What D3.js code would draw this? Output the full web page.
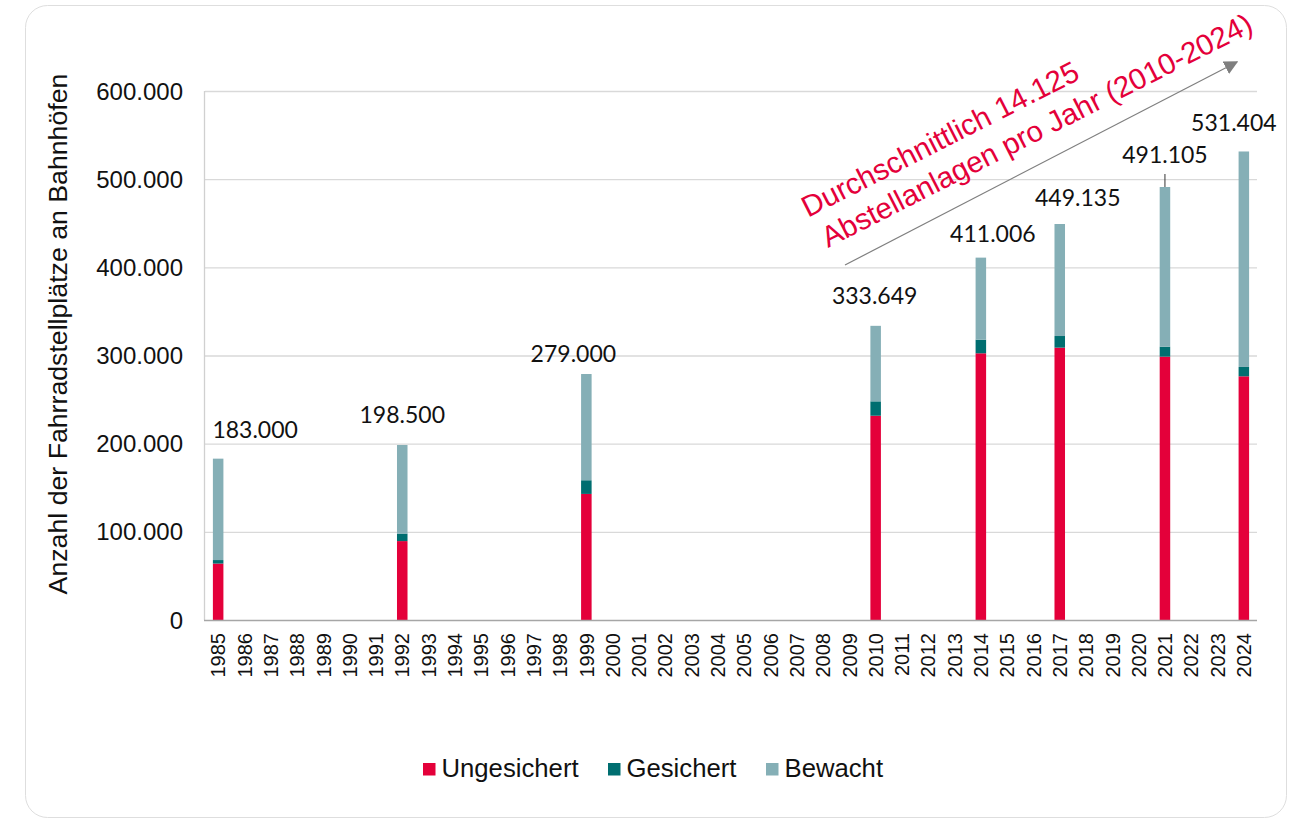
<!DOCTYPE html>
<html lang="de">
<head>
<meta charset="UTF-8">
<title>Fahrradstellplätze an Bahnhöfen</title>
<script src="https://d3js.org/d3.v7.min.js"></script>
<style>
  body { margin: 0; padding: 0; background: #ffffff; }
  svg { display: block; }
</style>
</head>
<body>
<svg id="chart" width="1294" height="821"></svg>

<script>
// x categories (all years on the axis)
const years = ["1985","1986","1987","1988","1989","1990","1991","1992","1993","1994",
               "1995","1996","1997","1998","1999","2000","2001","2002","2003","2004",
               "2005","2006","2007","2008","2009","2010","2011","2012","2013","2014",
               "2015","2016","2017","2018","2019","2020","2021","2022","2023","2024"];

// years that actually have data
const dataYears   = ["1985","1992","1999","2010","2014","2017","2021","2024"];
const ungesichert = [64000, 89500, 143000, 231700, 302500, 308900, 298700, 276400];
const gesichert   = [4000, 8500, 15500, 16300, 15400, 13200, 11300, 10600];
const bewacht     = [115000, 100500, 120500, 85649, 93106, 127035, 181105, 244404];
const totals      = [183000, 198500, 279000, 333649, 411006, 449135, 491105, 531404];

const seriesNames  = ["Ungesichert", "Gesichert", "Bewacht"];
const seriesColors = ["#e4003a", "#006e70", "#85afb6"];
const yTicks = [0, 100000, 200000, 300000, 400000, 500000, 600000];

// small nudges for the total labels (layout only)
const labelNudge = [[37, -1], [0, -2], [-13, 8], [-1, -2], [12, 4], [18, 2], [0, -4], [-10, 0]];

const svg = d3.select("#chart");

// card
svg.append("rect")
  .attr("x", 25.5).attr("y", 5.5)
  .attr("width", 1261).attr("height", 812)
  .attr("rx", 22)
  .attr("fill", "#ffffff")
  .attr("stroke", "#dedede");

const plotLeft = 205, plotRight = 1257, plotTop = 91, plotBottom = 620;

const x = d3.scaleBand().domain(years).range([plotLeft, plotRight])
  .paddingInner(0.6).paddingOuter(0.3);
const y = d3.scaleLinear().domain([0, 600000]).range([plotBottom, plotTop]);

const de = d3.formatLocale({ decimal: ",", thousands: ".", grouping: [3], currency: ["", " €"] });
const fmt = de.format(",.0f");

// gridlines
svg.append("g").selectAll("line")
  .data(yTicks.filter(d => d > 0))
  .enter().append("line")
  .attr("x1", plotLeft).attr("x2", plotRight)
  .attr("y1", d => y(d) + 0.5).attr("y2", d => y(d) + 0.5)
  .attr("stroke", "#d9d9d9").attr("stroke-width", 1.3);

// y axis line
svg.append("line")
  .attr("x1", plotLeft - 0.5).attr("x2", plotLeft - 0.5)
  .attr("y1", plotTop).attr("y2", plotBottom)
  .attr("stroke", "#d0d0d0").attr("stroke-width", 1.3);

// y tick labels
svg.append("g").selectAll("text")
  .data(yTicks)
  .enter().append("text")
  .attr("x", 183)
  .attr("y", d => y(d))
  .attr("dy", "0.36em")
  .attr("text-anchor", "end")
  .style("font-family", "'Liberation Sans', Arial, sans-serif")
  .style("font-size", "24px")
  .attr("fill", "#111")
  .text(d => fmt(d));

// y title
svg.append("text")
  .attr("transform", "translate(58," + 334 + ")rotate(-90)")
  .attr("dy", "0.35em")
  .attr("text-anchor", "middle")
  .style("font-family", "'Liberation Sans', Arial, sans-serif")
  .style("font-size", "26.7px")
  .attr("fill", "#111")
  .text("Anzahl der Fahrradstellplätze an Bahnhöfen");

// stacked bars
const rows = dataYears.map((yr, i) => ({
  year: yr,
  Ungesichert: ungesichert[i],
  Gesichert: gesichert[i],
  Bewacht: bewacht[i]
}));
const stack = d3.stack().keys(seriesNames)(rows);

svg.append("g").selectAll("g")
  .data(stack)
  .enter().append("g")
  .attr("fill", (d, i) => seriesColors[i])
  .selectAll("rect")
  .data(d => d)
  .enter().append("rect")
  .attr("x", d => x(d.data.year))
  .attr("y", d => y(d[1]))
  .attr("width", x.bandwidth())
  .attr("height", d => y(d[0]) - y(d[1]));

// x axis line
svg.append("line")
  .attr("x1", plotLeft - 1).attr("x2", plotRight)
  .attr("y1", plotBottom + 0.5).attr("y2", plotBottom + 0.5)
  .attr("stroke", "#a6a6a6").attr("stroke-width", 1.5);

// x labels (rotated)
svg.append("g").selectAll("text")
  .data(years)
  .enter().append("text")
  .attr("transform", d => "translate(" + (x(d) + x.bandwidth() / 2) + ",633)rotate(-90)")
  .attr("dy", "0.36em")
  .attr("text-anchor", "end")
  .style("font-family", "'Liberation Sans', Arial, sans-serif")
  .style("font-size", "20px")
  .attr("fill", "#111")
  .text(d => d);

// total labels
svg.append("g").selectAll("text")
  .data(dataYears)
  .enter().append("text")
  .attr("x", (d, i) => x(d) + x.bandwidth() / 2 + labelNudge[i][0])
  .attr("y", (d, i) => y(totals[i]) - 20 + labelNudge[i][1])
  .attr("text-anchor", "middle")
  .style("font-family", "Lato, 'Open Sans', sans-serif")
  .style("font-size", "23px")
  .attr("fill", "#111")
  .text((d, i) => fmt(totals[i]));

// leader line for 2021
const i21 = dataYears.indexOf("2021");
svg.append("line")
  .attr("x1", x("2021") + x.bandwidth() / 2).attr("x2", x("2021") + x.bandwidth() / 2)
  .attr("y1", y(totals[i21]) - 13).attr("y2", y(totals[i21]))
  .attr("stroke", "#333").attr("stroke-width", 1);

// trend arrow
svg.append("defs").append("marker")
  .attr("id", "arrow")
  .attr("viewBox", "0 0 10 10")
  .attr("refX", 9).attr("refY", 5)
  .attr("markerWidth", 14).attr("markerHeight", 14)
  .attr("markerUnits", "userSpaceOnUse")
  .attr("orient", "auto")
  .append("path")
  .attr("d", "M0,0L10,5L0,10Z")
  .attr("fill", "#7f7f7f");

svg.append("line")
  .attr("x1", 845).attr("y1", 265)
  .attr("x2", 1237).attr("y2", 62)
  .attr("stroke", "#7f7f7f").attr("stroke-width", 1.2)
  .attr("marker-end", "url(#arrow)");

// annotation text
const note = svg.append("g")
  .attr("transform", "translate(828,248)rotate(-27)")
  .style("font-family", "'Liberation Sans', Arial, sans-serif")
  .style("font-size", "29.5px")
  .attr("fill", "#e4003a");
note.append("text").attr("x", -4).attr("y", -36).text("Durchschnittlich 14.125");
note.append("text").attr("x", 0).attr("y", 0).text("Abstellanlagen pro Jahr (2010-2024)");

// legend
const legendX = [423, 608, 766];
const legend = svg.append("g").selectAll("g")
  .data(seriesNames)
  .enter().append("g")
  .attr("transform", (d, i) => "translate(" + legendX[i] + ",763)");
legend.append("rect")
  .attr("width", 12.5).attr("height", 12.5)
  .attr("fill", (d, i) => seriesColors[i]);
legend.append("text")
  .attr("x", 18.5).attr("y", 14)
  .style("font-family", "'Liberation Sans', Arial, sans-serif")
  .style("font-size", "25.7px")
  .attr("fill", "#111")
  .text(d => d);
</script>
</body>
</html>
